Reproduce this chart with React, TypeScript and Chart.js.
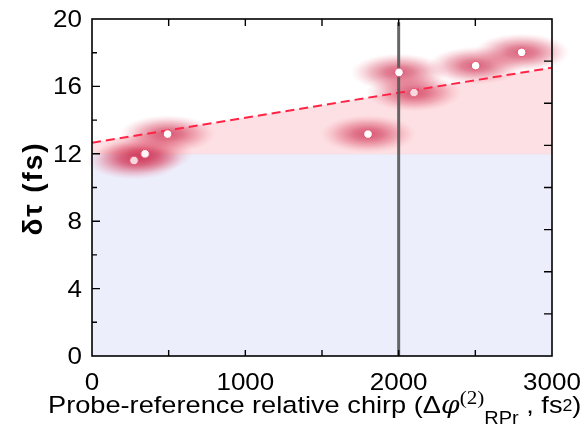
import React, { useEffect, useRef } from "react";
import { Chart, registerables } from "chart.js";

Chart.register(...registerables);

// ---- data ----
const CHIRP = [274, 346, 493, 1800, 2002, 2100, 2502, 2802];
const DELTA_TAU = [11.6, 12.0, 13.17, 13.17, 16.83, 15.63, 17.23, 18.02];
const FIT_X = [0, 3000];
const FIT_Y = [12.66, 17.11];
const THRESHOLD = 12;
const MARK_X = 2000;
const MARK_TOP = 19.8;
const X_TICK_LABELS = [0, 1000, 2000, 3000];
const X_MINOR = [500, 1500, 2500];
const Y_TICK_LABELS = [0, 4, 8, 12, 16, 20];
const Y_MINOR = [2, 6, 10, 14, 18];
const RIGHT_TICKS = [2.5, 5, 7.5, 10, 12.5, 15, 17.5];
const Y_TITLE = "δτ (fs)";

const SX = 1.13; // horizontal text stretch (ticks)
const SX_T = 1.11; // horizontal text stretch (x title)
const TICK_FONT = "23px 'Liberation Sans', Arial, sans-serif";
const SANS = "'Liberation Sans', Arial, sans-serif";

function stretchText(ctx: CanvasRenderingContext2D, text: string, x: number, y: number, font: string, align: CanvasTextAlign, sx: number) {
  ctx.save();
  ctx.font = font;
  ctx.textAlign = align;
  ctx.textBaseline = "alphabetic";
  ctx.fillStyle = "#000";
  ctx.translate(x, y);
  ctx.scale(sx, 1);
  ctx.fillText(text, 0, 0);
  ctx.restore();
}

const blobPlugin = {
  id: "blobs",
  afterDatasetDraw(chart: any, args: any) {
    if (args.index !== 3) return;
    const { ctx, scales, chartArea } = chart;
    ctx.save();
    ctx.beginPath();
    ctx.rect(chartArea.left - 20, chartArea.top - 20, chartArea.width + 40, chartArea.height + 40);
    ctx.clip();
    for (let i = 0; i < CHIRP.length; i++) {
      const cx = scales.x.getPixelForValue(CHIRP[i]);
      const cy = scales.y.getPixelForValue(DELTA_TAU[i]);
      ctx.save();
      ctx.translate(cx, cy);
      ctx.scale(48, 19);
      const g = ctx.createRadialGradient(0, 0, 0, 0, 0, 1);
      g.addColorStop(0, "rgba(200,30,70,0.7)");
      g.addColorStop(0.3, "rgba(205,40,75,0.58)");
      g.addColorStop(0.6, "rgba(215,60,90,0.34)");
      g.addColorStop(0.85, "rgba(230,100,125,0.12)");
      g.addColorStop(1, "rgba(240,130,150,0)");
      ctx.fillStyle = g;
      ctx.beginPath();
      ctx.arc(0, 0, 1, 0, Math.PI * 2);
      ctx.fill();
      ctx.restore();
    }
    ctx.restore();
  },
};

const framePlugin = {
  id: "frame",
  afterDatasetsDraw(chart: any) {
    const { ctx, scales, chartArea } = chart;
    const { left, right, top, bottom } = chartArea;
    const xs = scales.x, ys = scales.y;
    ctx.save();
    ctx.strokeStyle = "#000";
    ctx.lineWidth = 1.6;
    ctx.strokeRect(left, top, right - left, bottom - top);
    ctx.lineWidth = 1.4;
    ctx.beginPath();
    const xAll = [...X_TICK_LABELS, ...X_MINOR];
    xAll.forEach((v) => {
      if (v === xs.min || v === xs.max) return;
      const px = xs.getPixelForValue(v);
      ctx.moveTo(px, bottom); ctx.lineTo(px, bottom - 6);
      ctx.moveTo(px, top); ctx.lineTo(px, top + 7);
    });
    Y_TICK_LABELS.forEach((v) => {
      if (v === ys.min || v === ys.max) return;
      const py = ys.getPixelForValue(v);
      ctx.moveTo(left, py); ctx.lineTo(left + 8, py);
    });
    Y_MINOR.forEach((v) => {
      const py = ys.getPixelForValue(v);
      ctx.moveTo(left, py); ctx.lineTo(left + 5, py);
    });
    RIGHT_TICKS.forEach((v) => {
      const py = ys.getPixelForValue(v);
      ctx.moveTo(right, py); ctx.lineTo(right - 8, py);
    });
    ctx.stroke();
    ctx.restore();

    // tick labels
    X_TICK_LABELS.forEach((v) => {
      stretchText(ctx, String(v), xs.getPixelForValue(v), bottom + 34, TICK_FONT, "center", SX);
    });
    Y_TICK_LABELS.forEach((v) => {
      stretchText(ctx, String(v), left - 10, ys.getPixelForValue(v) + 8, TICK_FONT, "right", SX);
    });

    // y title: characters spread along a fixed length
    ctx.save();
    ctx.translate(34, (top + bottom) / 2 + 2);
    ctx.rotate(-Math.PI / 2);
    ctx.font = "bold 28px " + SANS;
    ctx.textAlign = "left";
    ctx.textBaseline = "middle";
    ctx.fillStyle = "#000";
    const chars = Array.from(Y_TITLE);
    const widths = chars.map((c) => ctx.measureText(c).width);
    const total = widths.reduce((a, b) => a + b, 0);
    const span = 92;
    const gap = Math.max(0, (span - total) / (chars.length - 1));
    let cx = -(total + gap * (chars.length - 1)) / 2;
    chars.forEach((c, i) => {
      ctx.fillText(c, cx, 0);
      cx += widths[i] + gap;
    });
    ctx.restore();

    // x title with super/subscripts
    const parts = [
      { t: "Probe-reference relative chirp (Δ", f: "24.5px " + SANS, dy: 0 },
      { t: "φ", f: "italic 24px 'DejaVu Serif', serif", dy: 0 },
      { t: "(2)", f: "19px 'Liberation Serif', serif", dy: -9 },
      { t: "RPr", f: "18px " + SANS, dy: 11 },
      { t: " , fs", f: "24.5px " + SANS, dy: 0 },
      { t: "2", f: "16px " + SANS, dy: -2 },
      { t: ")", f: "24.5px " + SANS, dy: 0 },
    ];
    let x = 48;
    const base = 413;
    parts.forEach((p) => {
      ctx.save();
      ctx.font = p.f;
      const w = ctx.measureText(p.t).width * SX_T;
      ctx.restore();
      stretchText(ctx, p.t, x, base + p.dy, p.f, "left", SX_T);
      x += w;
    });
  },
};

export default function App() {
  const ref = useRef<HTMLCanvasElement | null>(null);
  useEffect(() => {
    if (!ref.current) return;
    const pts = CHIRP.map((c, i) => ({ x: c, y: DELTA_TAU[i] }));
    const fit = FIT_X.map((c, i) => ({ x: c, y: FIT_Y[i] }));
    const thr = FIT_X.map((c) => ({ x: c, y: THRESHOLD }));
    const chart = new Chart(ref.current, {
      type: "scatter",
      data: {
        datasets: [
          {
            data: pts,
            pointRadius: 4.3,
            pointBackgroundColor: ["#f7d6dd", "#fff4f6", "#fff", "#fff", "#fff", "#f7d8de", "#fff", "#fff"],
            pointBorderColor: "#e4506e",
            pointBorderWidth: 1,
            showLine: false,
          },
          {
            data: [{ x: MARK_X, y: 0 }, { x: MARK_X, y: MARK_TOP }],
            showLine: true,
            borderColor: "rgba(85,85,85,0.9)",
            borderWidth: 3,
            pointRadius: 0,
          },
          {
            data: fit,
            showLine: true,
            borderColor: "#ff2445",
            borderWidth: 2,
            borderDash: [9, 5],
            pointRadius: 0,
          },
          {
            data: fit,
            showLine: true,
            borderWidth: 0,
            borderColor: "rgba(0,0,0,0)",
            backgroundColor: "#fde0e3",
            fill: { value: THRESHOLD },
            pointRadius: 0,
          },
          {
            data: thr,
            showLine: true,
            borderWidth: 1,
            borderColor: "#f6d6dc",
            backgroundColor: "#eceefc",
            fill: "origin",
            pointRadius: 0,
          },
        ],
      },
      options: {
        responsive: false,
        animation: false,
        layout: { padding: { left: 92, top: 19, right: 34, bottom: 69 } },
        plugins: { legend: { display: false }, tooltip: { enabled: false } },
        scales: {
          x: { type: "linear", min: 0, max: 3000, display: false },
          y: { type: "linear", min: 0, max: 20, display: false },
        },
      },
      plugins: [blobPlugin, framePlugin],
    });
    return () => chart.destroy();
  }, []);
  return (
    <div style={{ position: "absolute", left: 0, top: 0, width: 586, height: 425, background: "#fff" }}>
      <canvas ref={ref} width={586} height={425} />
    </div>
  );
}
